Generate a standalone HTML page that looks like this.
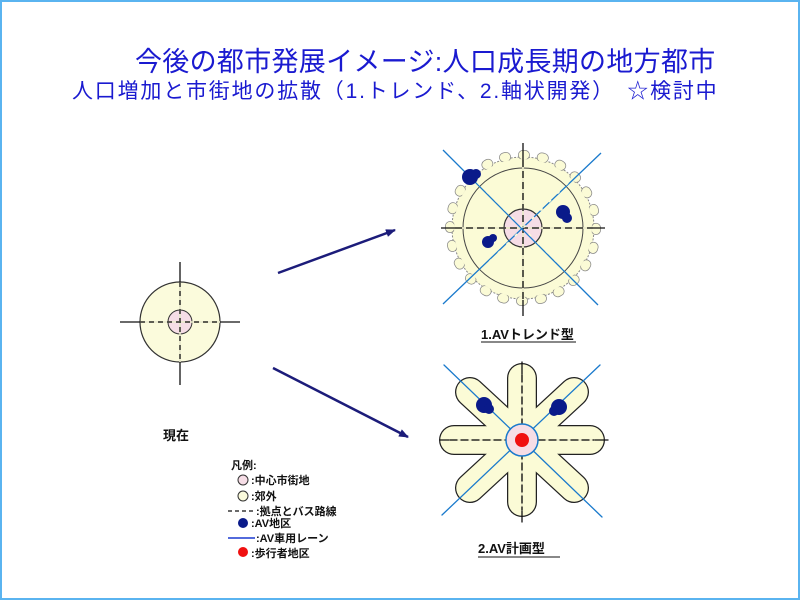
<!DOCTYPE html>
<html><head><meta charset="utf-8"><style>
body{margin:0;width:800px;height:600px;overflow:hidden;background:#fff;font-family:"Liberation Sans","Noto Sans CJK JP",sans-serif}
.f{position:absolute;left:0;top:0;width:796px;height:596px;border:2px solid #5ab4f0}
.t{position:absolute;color:#1a1ad0;white-space:nowrap}
</style></head><body>
<div class="f"></div>
<div class="t" style="left:135px;top:40px;font-size:27px;letter-spacing:0.3px">今後の都市発展イメージ:人口成長期の地方都市</div>
<div class="t" style="left:72px;top:75px;font-size:21px;letter-spacing:1.8px">人口増加と市街地の拡散（1.トレンド、2.軸状開発）　☆検討中</div>
<svg width="800" height="600" style="position:absolute;left:0;top:0" font-family="Liberation Sans, Noto Sans CJK JP, sans-serif">
<defs><marker id="a" markerWidth="10" markerHeight="8" refX="9" refY="4" orient="auto" markerUnits="userSpaceOnUse"><path d="M0,0L10,4L0,8z" fill="#1c1c7a"/></marker></defs>
<circle cx="180" cy="322" r="40" fill="#fbfbdc" stroke="#333" stroke-width="1.2"/>
<circle cx="180" cy="322" r="12" fill="#f6dde6" stroke="#333" stroke-width="1"/>
<line x1="180" y1="262" x2="180" y2="385" stroke="#111" stroke-width="1.3"/>
<line x1="120" y1="322" x2="240" y2="322" stroke="#111" stroke-width="1.3"/>
<line x1="140" y1="322" x2="220" y2="322" stroke="#fbfbdc" stroke-width="1.5"/>
<line x1="140" y1="322" x2="220" y2="322" stroke="#111" stroke-width="1.2" stroke-dasharray="5,4"/>
<line x1="180" y1="282" x2="180" y2="362" stroke="#fbfbdc" stroke-width="1.5"/>
<line x1="180" y1="282" x2="180" y2="362" stroke="#111" stroke-width="1.2" stroke-dasharray="5,4"/>
<text x="163" y="440" font-size="13" font-weight="bold" fill="#111">現在</text>
<line x1="278" y1="273" x2="395" y2="230" stroke="#1c1c7a" stroke-width="2.5" marker-end="url(#a)"/>
<line x1="273" y1="368" x2="408" y2="437" stroke="#1c1c7a" stroke-width="2.5" marker-end="url(#a)"/>
<g transform="translate(523,228)">
<circle r="71" fill="#fbfbd6" stroke="#888" stroke-width="1" stroke-dasharray="2,1.5"/>
<circle r="73" fill="none" stroke="#888" stroke-width="10" stroke-linecap="round" stroke-dasharray="2,17.1"/>
<circle r="73" fill="none" stroke="#fbfbd6" stroke-width="8.5" stroke-linecap="round" stroke-dasharray="2,17.1"/>
<circle r="69" fill="#fbfbd6"/>
<circle r="60" fill="none" stroke="#444" stroke-width="1"/>
<circle r="19" fill="#f6dde6" stroke="#333" stroke-width="1.2"/>
<line x1="0" y1="-85" x2="0" y2="88" stroke="#111" stroke-width="1.3"/>
<line x1="-82" y1="0" x2="82" y2="0" stroke="#111" stroke-width="1.3"/>
<line x1="0" y1="-68" x2="0" y2="72" stroke="#fbfbd6" stroke-width="1.6"/>
<line x1="-68" y1="0" x2="70" y2="0" stroke="#fbfbd6" stroke-width="1.6"/>
<line x1="0" y1="-68" x2="0" y2="72" stroke="#111" stroke-width="1.3" stroke-dasharray="7,4"/>
<line x1="-68" y1="0" x2="70" y2="0" stroke="#111" stroke-width="1.3" stroke-dasharray="7,4"/>
<line x1="-80" y1="-78" x2="75" y2="77" stroke="#1a7acc" stroke-width="1.3"/>
<line x1="78" y1="-75" x2="-80" y2="76" stroke="#1a7acc" stroke-width="1.3"/>
<line x1="-45" y1="-45" x2="45" y2="45" stroke="#fbfbd6" stroke-width="1.6" stroke-dasharray="3,9"/>
<line x1="45" y1="-45" x2="-45" y2="45" stroke="#fbfbd6" stroke-width="1.6" stroke-dasharray="3,9"/>
<circle cx="-53" cy="-51" r="8" fill="#0a1a8a"/><circle cx="-47" cy="-54" r="5" fill="#0a1a8a"/>
<circle cx="40" cy="-16" r="7" fill="#0a1a8a"/><circle cx="44" cy="-10" r="5" fill="#0a1a8a"/>
<circle cx="-35" cy="14" r="6" fill="#0a1a8a"/><circle cx="-30" cy="10" r="4" fill="#0a1a8a"/>
</g>
<text x="481" y="339" font-size="13" font-weight="bold" fill="#111">1.AVトレンド型</text>
<line x1="481" y1="342" x2="576" y2="342" stroke="#111" stroke-width="1"/>
<g transform="translate(522,440)" stroke-linecap="round">
<g stroke="#222" stroke-width="30">
<line x1="0" y1="0" x2="0" y2="-62"/><line x1="0" y1="0" x2="0" y2="62"/>
<line x1="0" y1="0" x2="-68" y2="0"/><line x1="0" y1="0" x2="68" y2="0"/>
<line x1="0" y1="0" x2="-52" y2="-48"/><line x1="0" y1="0" x2="52" y2="-48"/>
<line x1="0" y1="0" x2="-52" y2="48"/><line x1="0" y1="0" x2="52" y2="48"/>
</g>
<g stroke="#fbfbd6" stroke-width="27.5">
<line x1="0" y1="0" x2="0" y2="-62"/><line x1="0" y1="0" x2="0" y2="62"/>
<line x1="0" y1="0" x2="-68" y2="0"/><line x1="0" y1="0" x2="68" y2="0"/>
<line x1="0" y1="0" x2="-52" y2="-48"/><line x1="0" y1="0" x2="52" y2="-48"/>
<line x1="0" y1="0" x2="-52" y2="48"/><line x1="0" y1="0" x2="52" y2="48"/>
</g>
<circle r="32" fill="#fbfbd6"/>
<line x1="0" y1="-78" x2="0" y2="82" stroke="#111" stroke-width="1.3"/>
<line x1="-82" y1="0" x2="86" y2="0" stroke="#111" stroke-width="1.3"/>
<line x1="0" y1="-65" x2="0" y2="70" stroke="#fbfbd6" stroke-width="1.6"/>
<line x1="-72" y1="0" x2="72" y2="0" stroke="#fbfbd6" stroke-width="1.6"/>
<line x1="0" y1="-65" x2="0" y2="70" stroke="#111" stroke-width="1.3" stroke-dasharray="7,4"/>
<line x1="-72" y1="0" x2="72" y2="0" stroke="#111" stroke-width="1.3" stroke-dasharray="7,4"/>
<line x1="-78" y1="-75" x2="80" y2="77" stroke="#1a7acc" stroke-width="1.3"/>
<line x1="78" y1="-75" x2="-80" y2="75" stroke="#1a7acc" stroke-width="1.3"/>
<circle r="16" fill="#f6dde6" stroke="#1a7acc" stroke-width="1.5"/>
<circle r="7" fill="#f01010"/>
<circle cx="-38" cy="-35" r="8" fill="#0a1a8a"/><circle cx="-33" cy="-31" r="5" fill="#0a1a8a"/>
<circle cx="37" cy="-33" r="8" fill="#0a1a8a"/><circle cx="32" cy="-29" r="5" fill="#0a1a8a"/>
</g>
<text x="478" y="553" font-size="13" font-weight="bold" fill="#111">2.AV計画型</text>
<line x1="478" y1="557" x2="560" y2="557" stroke="#111" stroke-width="1"/>
<g font-size="11" font-weight="bold" fill="#111">
<text x="231" y="469">凡例:</text>
<circle cx="243" cy="480" r="5" fill="#f6dde6" stroke="#333"/><text x="251" y="484">:中心市街地</text>
<circle cx="243" cy="496" r="5" fill="#fbfbdc" stroke="#333"/><text x="251" y="500">:郊外</text>
<line x1="228" y1="511" x2="255" y2="511" stroke="#111" stroke-width="1.2" stroke-dasharray="4,3"/><text x="256" y="515">:拠点とバス路線</text>
<circle cx="243" cy="523" r="5" fill="#0a1a8a"/><text x="251" y="527">:AV地区</text>
<line x1="228" y1="538" x2="255" y2="538" stroke="#1a3ad0" stroke-width="1.6"/><text x="256" y="542">:AV車用レーン</text>
<circle cx="243" cy="552" r="5" fill="#f01010"/><text x="251" y="557">:歩行者地区</text>
</g>
</svg>
</body></html>
